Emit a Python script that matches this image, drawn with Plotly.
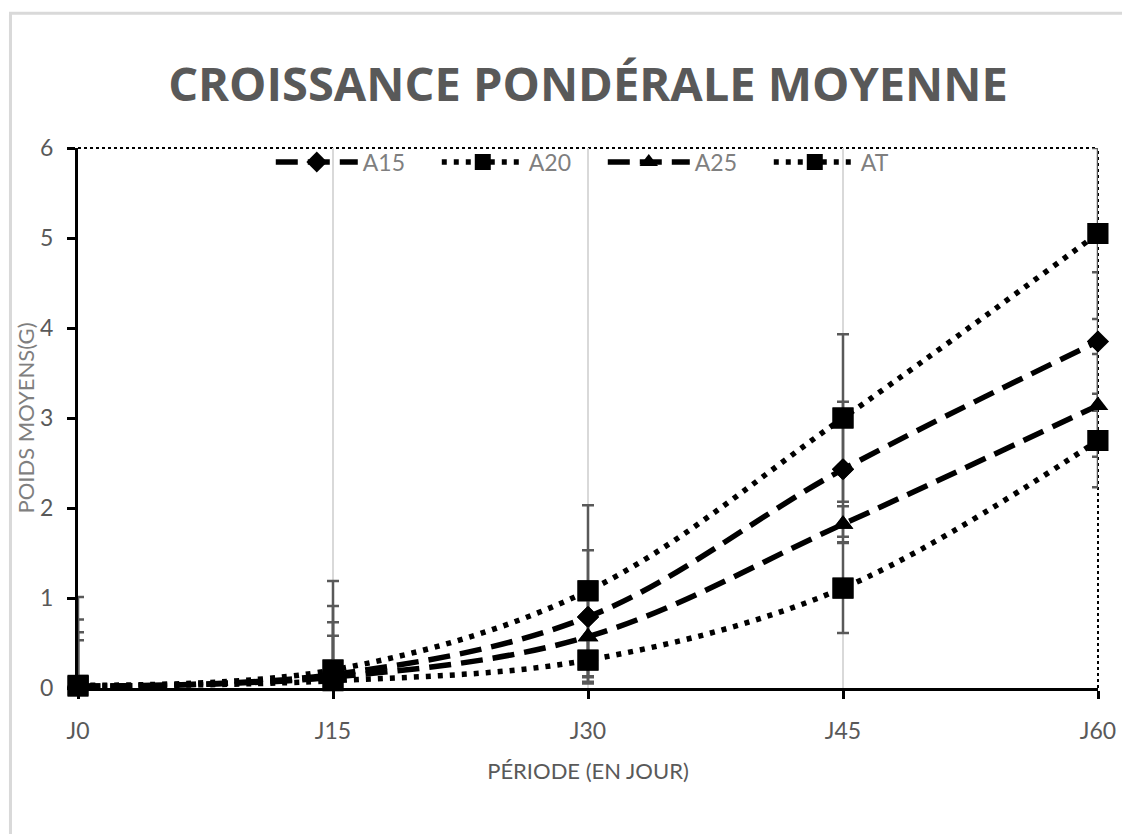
import plotly.graph_objects as go

# ---- data ----
day_labels = ["J0", "J15", "J30", "J45", "J60"]
days = [0, 15, 30, 45, 60]

series_names = ["A15", "A20", "A25", "AT"]
a15 = [0.02, 0.15, 0.79, 2.43, 3.85]
a15_err = [0.74, 0.76, 0.74, 0.75, 0.77]
a20 = [0.03, 0.20, 1.08, 3.00, 5.05]
a20_err = [0.98, 0.99, 0.95, 0.93, 0.95]
a25 = [0.02, 0.12, 0.57, 1.82, 3.14]
a25_err = [0.60, 0.61, 0.45, 0.20, 0.57]
at = [0.02, 0.08, 0.31, 1.11, 2.75]
at_err = [0.51, 0.50, 0.24, 0.50, 0.52]

y_ticks = [0, 1, 2, 3, 4, 5, 6]

values = [a15, a20, a25, at]
errors = [a15_err, a20_err, a25_err, at_err]
symbols = ["diamond", "square", "triangle-up", "square"]
msizes = [17, 21, 18, 21]
dashes = ["22px,10px", "5px,7px", "22px,10px", "5px,7px"]

GRAY = "#595959"
LGRAY = "#7f7f7f"

# the page body adds an 8px offset, so the figure is 8px smaller
W, H = 1122, 826

fig = go.Figure()
for name, v, e, sym, ms, dash in zip(series_names, values, errors, symbols, msizes, dashes):
    fig.add_trace(go.Scatter(
        x=days, y=v, name=name, mode="lines+markers",
        line=dict(color="black", width=5.5, dash=dash, shape="spline", smoothing=1),
        marker=dict(symbol=sym, size=ms, color="black"),
        error_y=dict(type="data", array=e, visible=True, color=GRAY,
                     thickness=2.5, width=6),
        cliponaxis=True,
    ))
for name, v, sym, ms in zip(series_names, values, symbols, msizes):
    fig.add_trace(go.Scatter(
        x=days, y=v, mode="markers", showlegend=False, hoverinfo="skip",
        marker=dict(symbol=sym, size=ms, color="black"),
        cliponaxis=False,
    ))

# dotted plot-area border (top and right)
fig.add_shape(type="line", xref="paper", yref="paper", x0=0, x1=1, y0=1, y1=1,
              line=dict(color="black", width=2, dash="dot"), layer="between")
fig.add_shape(type="line", xref="paper", yref="paper", x0=1, x1=1, y0=0, y1=1,
              line=dict(color="black", width=2, dash="dot"), layer="between")
# outer chart frame
fig.add_shape(type="rect", xref="paper", yref="paper",
              x0=-0.0662, x1=1.045, y0=-0.31, y1=1.2495,
              line=dict(color="#d9d9d9", width=3), layer="below")

fig.update_layout(
    width=W, height=H, autosize=False,
    margin=dict(l=70, r=32, t=140, b=146),
    paper_bgcolor="white", plot_bgcolor="white",
    title=dict(text="CROISSANCE PONDÉRALE MOYENNE",
               font=dict(family="Open Sans", size=47, color=GRAY, weight="bold"),
               x=0.5, xref="paper", xanchor="center",
               y=1 - 77 / H, yref="container", yanchor="middle"),
    showlegend=True,
    legend=dict(orientation="h", x=0.189, xanchor="left", y=0.974, yanchor="middle",
                font=dict(family="Lato", size=23, color=LGRAY),
                bgcolor="rgba(0,0,0,0)", itemwidth=82,
                entrywidth=69, entrywidthmode="pixels", itemsizing="trace"),
    xaxis=dict(range=[0, 60], tickvals=days, ticktext=day_labels,
               showline=True, linecolor="black", linewidth=3,
               ticks="outside", ticklen=8, tickwidth=3, tickcolor="black",
               showgrid=True, gridcolor="#d9d9d9", gridwidth=2,
               zeroline=False, layer="below traces",
               tickfont=dict(family="Lato", size=23, color=GRAY),
               ticklabelstandoff=12,
               title=dict(text="PÉRIODE (EN JOUR)", standoff=22,
                          font=dict(family="Lato", size=22, color=GRAY))),
    yaxis=dict(range=[0, 6], tickvals=y_ticks,
               showline=True, linecolor="black", linewidth=3,
               ticks="outside", ticklen=8, tickwidth=3, tickcolor="black",
               showgrid=False, zeroline=False, layer="below traces",
               tickfont=dict(family="Lato", size=23, color=GRAY),
               ticklabelstandoff=9,
               title=dict(text="POIDS MOYENS(G)", standoff=0,
                          font=dict(family="Lato", size=22, color=LGRAY))),
    yaxis2=dict(range=[0, 6], tickvals=y_ticks, overlaying="y", side="left",
                anchor="x", showline=False, showgrid=False, zeroline=False,
                ticks="inside", ticklen=8, tickwidth=3, tickcolor="black",
                showticklabels=False),
)

fig.write_html("out.html")
